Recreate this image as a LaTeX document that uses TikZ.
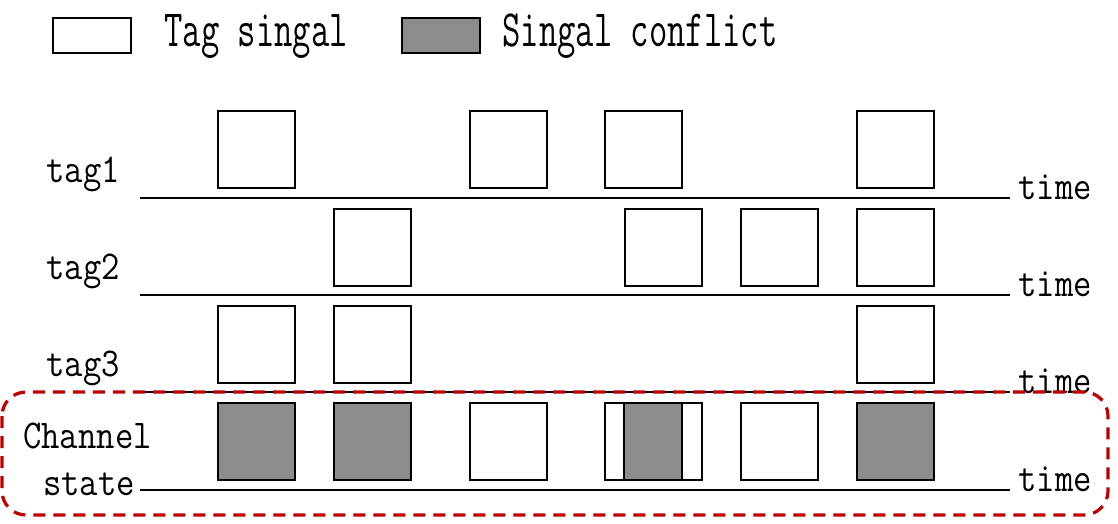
\documentclass[tikz,border=0pt]{standalone}
\definecolor{clashgray}{RGB}{140,140,140}
\definecolor{chanred}{RGB}{192,0,0}
\begin{document}
\begin{tikzpicture}[x=0.5pt,y=-0.5pt,
	lbl/.style={font=\ttfamily\fontsize{17.8pt}{20pt}\selectfont,inner sep=0pt,yscale=1.15,transform shape},
	sig/.style={draw,line width=1pt,minimum width=38.5pt,minimum height=38.5pt,inner sep=0pt},
	clash/.style={sig,fill=clashgray},
	axis/.style={line width=1pt},
	chanbox/.style={draw=chanred,line width=1.6pt,dash pattern=on 6pt off 4pt,rounded corners=12pt}]

		\useasboundingbox (0,0) rectangle (1118,524);

		% legend
		\node[draw,line width=1pt,minimum width=39pt,minimum height=17.5pt,inner sep=0pt] (legW) at (91.5,36) {};
		\node[lbl,anchor=base west,yscale=1.28] (legWt) at (164,47) {Tag singal};
		\node[draw,line width=1pt,fill=clashgray,minimum width=39pt,minimum height=17.5pt,inner sep=0pt] (legG) at (441,36) {};
		\node[lbl,anchor=base west,yscale=1.28] (legGt) at (502,47) {Singal conflict};

		% row labels
		\node[lbl,anchor=base] (tag1) at (83,182) {tag1};
		\node[lbl,anchor=base] (tag2) at (83,279) {tag2};
		\node[lbl,anchor=base] (tag3) at (83,376) {tag3};
		\node[lbl,anchor=base] (chan) at (87.5,448) {Channel};
		\node[lbl,anchor=base] (state) at (89,495) {state};

		% time axes
		\coordinate (s1) at (140,198);
		\coordinate (e1) at (1010,198);
		\coordinate (s2) at (140,295);
		\coordinate (e2) at (1010,295);
		\coordinate (s3) at (140,392);
		\coordinate (e3) at (1010,392);
		\coordinate (s4) at (140,490);
		\coordinate (e4) at (1010,490);
		\draw[axis] (s1) -- (e1);
		\draw[axis] (s2) -- (e2);
		\draw[axis] (s3) -- (e3);
		\draw[axis] (s4) -- (e4);
		\node[lbl,anchor=base west] (time1) at (1018,199) {time};
		\node[lbl,anchor=base west] (time2) at (1018,296) {time};
		\node[lbl,anchor=base west] (time3) at (1018,393) {time};
		\node[lbl,anchor=base west] (time4) at (1018,491) {time};

		% tag1
		\node[sig] (a1) at (256,149.5) {};
		\node[sig] (a2) at (508,149.5) {};
		\node[sig] (a3) at (643,149.5) {};
		\node[sig] (a4) at (895,149.5) {};

		% tag2
		\node[sig] (b1) at (372,247) {};
		\node[sig] (b2) at (663,247) {};
		\node[sig] (b3) at (779,247) {};
		\node[sig] (b4) at (895,247) {};

		% tag3
		\node[sig] (c1) at (256,344) {};
		\node[sig] (c2) at (372,344) {};
		\node[sig] (c3) at (895,344) {};

		% channel state
		\node[clash] (d1) at (256,441) {};
		\node[clash] (d2) at (372,441) {};
		\node[sig] (d3) at (508,441) {};
		\node[sig,minimum width=48.5pt] (d4) at (653,441) {};
		\node[clash,minimum width=29pt] (d4c) at (652.5,441) {};
		\node[sig] (d5) at (779,441) {};
		\node[clash] (d6) at (895,441) {};

		\draw[chanbox] (2,392) rectangle (1108,515);

	\end{tikzpicture}
\end{document}
